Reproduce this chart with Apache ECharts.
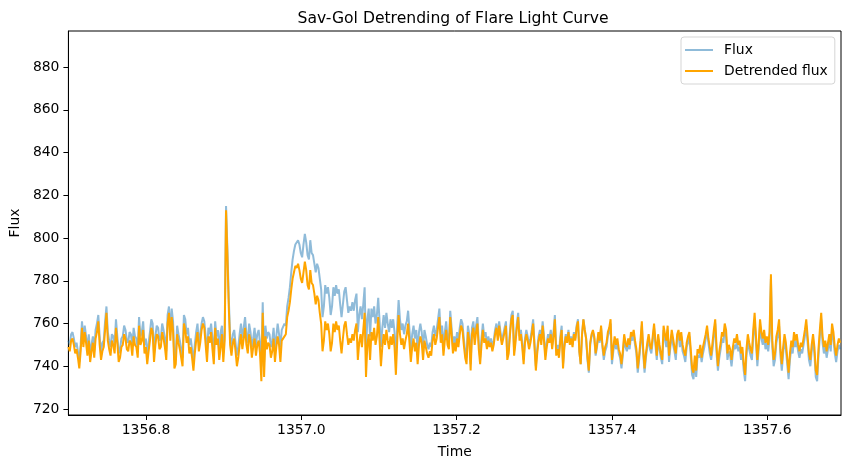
<!DOCTYPE html>
<html>
<head>
<meta charset="utf-8">
<script src="https://cdn.jsdelivr.net/npm/echarts@6.0.0/dist/echarts.min.js"></script>
<style>
html,body{margin:0;padding:0;background:#fff;}
#chart{width:850px;height:468px;}
</style>
</head>
<body>
<div id="chart"></div>
<script>
// Time grid: regular cadence starting at T0
const T0 = 1356.7;
const DT = 0.00175;

const fluxValues = [
752,750,755,756,753,749,751,747,742,750,761,752,759,754,748,755,746,750,754,747,
757,760,764,754,746,751,752,761,768,756,752,749,755,754,750,762,754,746,748,753,
754,759,757,752,751,756,755,749,758,754,753,748,763,754,756,761,750,753,745,751,
756,762,760,746,754,759,758,752,753,760,757,753,747,764,768,756,767,761,743,745,
759,755,752,748,744,764,762,755,758,750,753,748,742,750,756,760,751,755,760,763,
761,754,746,758,755,760,753,745,761,754,757,747,756,759,746,756,815,795,772,754,
749,755,757,751,745,749,755,760,753,758,763,755,751,760,756,749,753,758,750,755,
757,751,740,770,742,759,753,756,755,749,752,758,748,754,760,755,749,757,757,760,
759,768,772,777,784,790,794,797,797,799,797,793,791,797,802,798,792,790,799,793,
792,788,784,788,786,781,776,763,768,778,774,777,772,764,768,777,773,778,774,776,
769,763,769,775,777,771,765,768,766,770,766,771,774,756,764,768,762,769,777,747,
762,767,754,767,763,768,760,764,772,761,749,758,764,758,765,760,756,762,758,762,
756,743,759,771,762,757,760,755,759,761,766,757,748,755,759,753,757,747,756,760,
756,748,757,754,750,748,751,749,756,759,754,757,762,767,755,759,749,756,761,753,
751,766,758,749,754,750,756,752,758,762,760,753,747,744,759,755,741,758,761,753,
759,763,751,744,753,760,754,756,750,754,751,753,749,752,757,760,754,761,756,752,
755,758,761,745,748,757,764,766,747,753,760,765,754,757,751,743,753,757,754,750,
753,757,762,751,740,748,754,757,752,761,754,745,751,755,753,757,750,756,764,747,
750,746,754,759,741,750,755,752,757,751,754,750,756,753,759,762,747,741,755,762,
757,753,743,737,750,754,756,753,745,749,755,751,758,749,743,747,749,754,756,760,
741,747,752,748,751,746,744,739,745,753,749,747,751,748,754,752,755,750,746,737,
743,750,759,746,737,744,749,753,748,746,752,758,750,743,753,748,744,741,757,753,
749,757,742,749,755,750,747,743,753,755,749,754,747,745,742,749,751,754,745,736,
734,742,735,745,744,747,742,746,749,753,756,751,746,743,748,754,760,746,738,744,
748,753,751,757,754,743,747,745,740,746,750,748,752,747,749,743,746,738,733,745,
752,748,745,743,754,762,751,740,748,759,753,750,754,748,751,747,753,781,749,740,
743,751,754,759,745,738,746,752,748,741,734,743,749,746,753,749,752,747,744,748,
746,750,754,759,751,743,740,747,752,746,735,733,745,754,762,751,746,749,744,748,752,747,757,753,746,742,747,750,748
];

const detrendedValues = [
749,747,752,753,750,746,748,744,739,747,758,749,756,751,745,752,742,747,751,744,
753,756,761,750,743,747,749,757,765,752,748,745,752,750,746,758,751,742,744,749,
750,755,753,748,747,752,751,745,754,750,749,744,759,750,752,757,746,749,741,747,
752,758,756,742,750,755,754,748,749,756,753,749,743,760,765,752,763,757,739,741,
755,751,748,744,740,760,757,751,754,746,749,744,738,746,752,756,747,751,757,760,
758,750,742,754,751,756,748,741,758,750,753,743,749,755,742,752,813,792,768,750,
745,751,753,747,740,744,750,755,748,753,758,750,746,755,752,744,749,753,745,750,
752,746,733,765,735,754,748,751,750,744,747,753,742,749,754,750,742,752,752,754,
755,763,766,770,776,781,784,787,786,788,785,781,779,784,789,785,778,776,785,779,
778,774,769,773,771,765,760,747,752,761,757,760,755,747,751,760,756,761,757,759,
752,746,753,759,761,755,750,753,751,755,752,757,760,743,751,755,749,757,765,735,
750,755,743,756,752,758,750,754,763,752,740,749,755,750,757,752,748,754,750,755,
749,736,752,764,755,750,753,748,752,755,760,751,742,749,753,747,751,741,750,754,
751,743,752,749,746,744,747,745,752,755,750,753,758,763,751,755,745,752,757,750,
748,763,755,746,751,747,753,749,755,759,757,750,744,741,756,752,738,755,758,750,
756,760,748,741,750,757,751,753,748,752,749,751,747,750,755,758,752,759,754,750,
753,756,759,743,746,755,762,764,745,751,758,763,752,755,749,741,751,755,752,748,
751,755,760,749,738,746,752,755,750,759,752,743,749,753,751,755,748,754,762,745,
748,744,752,757,739,749,754,751,756,750,753,749,755,752,758,761,747,741,755,762,
757,753,744,738,751,755,757,754,746,750,756,752,759,750,745,749,751,756,758,762,
743,749,754,750,753,748,746,741,747,755,751,749,753,750,756,754,757,752,748,739,
745,752,761,748,739,746,751,755,750,748,754,760,752,745,755,750,746,743,759,755,
752,759,745,751,757,753,749,746,755,757,752,756,750,747,745,751,754,756,748,739,
737,745,738,748,746,750,744,749,752,755,759,753,749,745,751,757,762,749,740,747,
751,756,754,760,757,746,750,748,743,749,753,751,755,750,752,746,749,741,736,748,
755,751,748,746,757,765,754,743,751,762,756,753,757,751,754,750,756,783,752,743,
746,754,757,762,748,741,749,755,751,744,737,746,752,749,756,752,755,750,747,751,
749,753,757,762,754,746,743,750,755,749,738,736,748,757,765,754,749,752,747,751,755,750,760,756,749,745,750,753,751
];

const xTicks = [1356.8, 1357.0, 1357.2, 1357.4, 1357.6];
const yTicks = [720, 740, 760, 780, 800, 820, 840, 860, 880];

const seriesNames = ['Flux', 'Detrended flux'];
const FONT = 'DejaVu Sans';

function pairs(vals) {
  return vals.map((v, i) => [Number((T0 + i * DT).toFixed(5)), v]);
}

const chart = echarts.init(document.getElementById('chart'), null, {renderer: 'canvas'});
chart.setOption({
  animation: false,
  backgroundColor: '#fff',
  textStyle: {fontFamily: FONT},
  title: {
    text: 'Sav-Gol Detrending of Flare Light Curve',
    left: 448,
    textAlign: 'center',
    top: 6,
    textStyle: {fontFamily: FONT, fontSize: 15.6, fontWeight: 'normal', color: '#000'}
  },
  legend: {
    orient: 'vertical',
    left: 681,
    top: 37,
    padding: [6, 7, 6, 4],
    itemGap: 7,
    itemWidth: 28,
    itemHeight: 2,
    icon: 'rect',
    backgroundColor: '#fff',
    borderColor: '#d5d5d5',
    borderWidth: 1,
    borderRadius: 3,
    textStyle: {fontFamily: FONT, fontSize: 13.9, color: '#000', padding: [0, 0, 0, 6]},
    data: seriesNames
  },
  grid: {
    left: 66, right: 9, top: 31, bottom: 53,
    show: true, borderColor: '#000', borderWidth: 1, backgroundColor: 'transparent'
  },
  xAxis: {
    type: 'value',
    min: 1356.7,
    max: 1357.695,
    name: 'Time',
    nameLocation: 'middle',
    nameGap: 30,
    nameTextStyle: {fontFamily: FONT, fontSize: 13.9, color: '#000'},
    axisLine: {show: true, onZero: false, lineStyle: {color: '#000', width: 1}},
    axisTick: {show: true, length: 5, inside: false, customValues: xTicks, lineStyle: {color: '#000'}},
    axisLabel: {
      customValues: xTicks, margin: 8, color: '#000', fontFamily: FONT, fontSize: 13.9,
      formatter: v => Number(v).toFixed(1)
    },
    splitLine: {show: false}
  },
  yAxis: {
    type: 'value',
    min: 717.2,
    max: 896.9,
    name: 'Flux',
    nameLocation: 'middle',
    nameGap: 41,
    nameTextStyle: {fontFamily: FONT, fontSize: 13.9, color: '#000'},
    axisLine: {show: true, onZero: false, lineStyle: {color: '#000', width: 1}},
    axisTick: {show: true, length: 5, inside: false, customValues: yTicks, lineStyle: {color: '#000'}},
    axisLabel: {
      customValues: yTicks, margin: 9, color: '#000', fontFamily: FONT, fontSize: 13.9,
      formatter: v => String(Math.round(v))
    },
    splitLine: {show: false}
  },
  series: [
    {
      name: seriesNames[0], type: 'line', symbol: 'none', showSymbol: false,
      data: pairs(fluxValues),
      color: 'rgba(31,119,180,0.5)',
      lineStyle: {color: 'rgba(31,119,180,0.5)', width: 2},
      z: 2
    },
    {
      name: seriesNames[1], type: 'line', symbol: 'none', showSymbol: false,
      data: pairs(detrendedValues),
      color: '#FFA500',
      lineStyle: {color: '#FFA500', width: 2},
      z: 3
    }
  ]
});
</script>
</body>
</html>
